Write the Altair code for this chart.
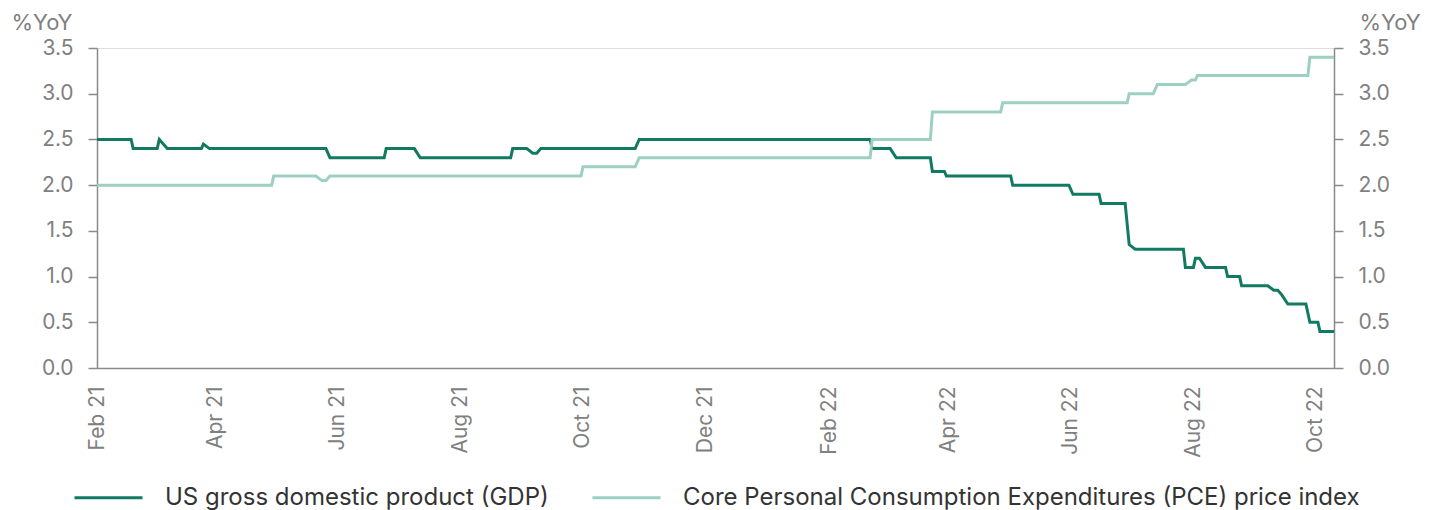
import altair as alt
import pandas as pd

GDP_NAME = "US gross domestic product (GDP)"
PCE_NAME = "Core Personal Consumption Expenditures (PCE) price index"

gdp_dates = [
    "2021-02-01", "2021-02-18", "2021-02-19", "2021-03-03", "2021-03-04", "2021-03-08",
    "2021-03-25", "2021-03-26", "2021-03-29", "2021-05-26", "2021-05-28", "2021-06-24",
    "2021-06-25", "2021-07-09", "2021-07-12", "2021-08-26", "2021-08-27", "2021-09-03",
    "2021-09-06", "2021-09-08", "2021-09-10", "2021-10-27", "2021-10-29", "2022-02-21",
    "2022-02-22", "2022-03-03", "2022-03-06", "2022-03-23", "2022-03-24", "2022-03-30",
    "2022-03-31", "2022-05-02", "2022-05-03", "2022-05-31", "2022-06-02", "2022-06-15",
    "2022-06-16", "2022-06-28", "2022-06-30", "2022-07-03", "2022-07-27", "2022-07-28",
    "2022-08-01", "2022-08-02", "2022-08-04", "2022-08-07", "2022-08-17", "2022-08-18",
    "2022-08-24", "2022-08-25", "2022-09-07", "2022-09-10", "2022-09-12", "2022-09-14",
    "2022-09-17", "2022-09-26", "2022-09-28", "2022-10-02", "2022-10-03", "2022-10-10",
]
gdp_values = [
    2.5, 2.5, 2.4, 2.4, 2.5, 2.4,
    2.4, 2.45, 2.4, 2.4, 2.3, 2.3,
    2.4, 2.4, 2.3, 2.3, 2.4, 2.4,
    2.35, 2.35, 2.4, 2.4, 2.5, 2.5,
    2.4, 2.4, 2.3, 2.3, 2.15, 2.15,
    2.1, 2.1, 2.0, 2.0, 1.9, 1.9,
    1.8, 1.8, 1.35, 1.3, 1.3, 1.1,
    1.1, 1.2, 1.2, 1.1, 1.1, 1.0,
    1.0, 0.9, 0.9, 0.85, 0.85, 0.8,
    0.7, 0.7, 0.5, 0.5, 0.4, 0.4,
]

pce_dates = [
    "2021-02-01", "2021-04-29", "2021-04-30", "2021-05-21", "2021-05-24", "2021-05-26",
    "2021-05-28", "2021-09-30", "2021-10-01", "2021-10-27", "2021-10-29", "2022-02-21",
    "2022-02-22", "2022-03-23", "2022-03-24", "2022-04-27", "2022-04-28", "2022-06-29",
    "2022-06-30", "2022-07-12", "2022-07-14", "2022-07-28", "2022-07-31", "2022-08-02",
    "2022-08-03", "2022-09-27", "2022-09-28", "2022-10-10",
]
pce_values = [
    2.0, 2.0, 2.1, 2.1, 2.05, 2.05,
    2.1, 2.1, 2.2, 2.2, 2.3, 2.3,
    2.5, 2.5, 2.8, 2.8, 2.9, 2.9,
    3.0, 3.0, 3.1, 3.1, 3.15, 3.15,
    3.2, 3.2, 3.4, 3.4,
]

y_ticks = [0.0, 0.5, 1.0, 1.5, 2.0, 2.5, 3.0, 3.5]
x_tick_months = [(2021, 2), (2021, 4), (2021, 6), (2021, 8), (2021, 10), (2021, 12),
                 (2022, 2), (2022, 4), (2022, 6), (2022, 8), (2022, 10)]

rows = []
for d, v in zip(gdp_dates, gdp_values):
    rows.append({"date": d + "T00:00:00", "value": v, "series": GDP_NAME, "ord": 1})
for d, v in zip(pce_dates, pce_values):
    rows.append({"date": d + "T00:00:00", "value": v, "series": PCE_NAME, "ord": 0})
df = pd.DataFrame(rows)

AXIS_FONT = "Inter"
AXIS_COLOR = "#8a8a8a"
LABEL_COLOR = "#7f7f7f"
LABEL_SIZE = 21
TITLE_SIZE = 22


def y_axis(orient, title_x, title_align):
    return alt.Axis(
        title="%YoY",
        titleAngle=0,
        titleAlign=title_align,
        titleBaseline="alphabetic",
        titleX=title_x,
        titleY=-19,
        titleFont=AXIS_FONT,
        titleFontSize=TITLE_SIZE,
        titleFontWeight="normal",
        titleColor=LABEL_COLOR,
        values=y_ticks,
        format=".1f",
        orient=orient,
        tickSize=9,
        tickWidth=1.5,
        tickColor=AXIS_COLOR,
        domainColor=AXIS_COLOR,
        domainWidth=1.5,
        labelPadding=15,
        labelFont=AXIS_FONT,
        labelFontSize=LABEL_SIZE,
        labelColor=LABEL_COLOR,
        grid=False,
    )


x_enc = alt.X(
    "date:T",
    scale=alt.Scale(domain=[alt.DateTime(year=2021, month=2, date=1),
                            alt.DateTime(year=2022, month=10, date=10)]),
    axis=alt.Axis(
        title=None,
        values=[alt.DateTime(year=y, month=m, date=1) for y, m in x_tick_months],
        format="%b %y",
        labelAngle=-90,
        ticks=False,
        labelPadding=18,
        labelFont=AXIS_FONT,
        labelFontSize=LABEL_SIZE,
        labelColor=LABEL_COLOR,
        domainColor=AXIS_COLOR,
        domainWidth=1.5,
        grid=False,
    ),
)

y_scale = alt.Scale(domain=[0, 3.5], nice=False, zero=True)

lines = alt.Chart(df).mark_line(strokeWidth=3, interpolate="linear").encode(
    x=x_enc,
    y=alt.Y("value:Q", scale=y_scale, axis=y_axis("left", -25, "right")),
    color=alt.Color(
        "series:N",
        scale=alt.Scale(domain=[GDP_NAME, PCE_NAME], range=["#127a62", "#9dcfc3"]),
        legend=alt.Legend(
            title=None,
            orient="none",
            direction="horizontal",
            legendX=-24,
            legendY=414,
            symbolType="stroke",
            symbolSize=4624,
            symbolStrokeWidth=3,
            labelOffset=21,
            columnPadding=37,
            labelFont="Inter",
            labelFontSize=24,
            labelColor="#333333",
            labelLimit=1000,
        ),
    ),
    order=alt.Order("ord:Q"),
)

right_axis = alt.Chart(df).mark_line(strokeOpacity=0).encode(
    x=alt.X("date:T"),
    y=alt.Y("value:Q", scale=y_scale, axis=y_axis("right", 25, "left")),
    detail="series:N",
)

chart = (
    alt.layer(lines, right_axis)
    .resolve_scale(y="independent")
    .properties(
        width=1237,
        height=320,
        autosize=alt.AutoSizeParams(type="none"),
        padding={"left": 89, "top": 40, "right": 95, "bottom": 144},
    )
    .configure_view(stroke=None)
    .configure(background="white")
)

chart.save("out.html", embed_options={"renderer": "svg", "actions": False})
